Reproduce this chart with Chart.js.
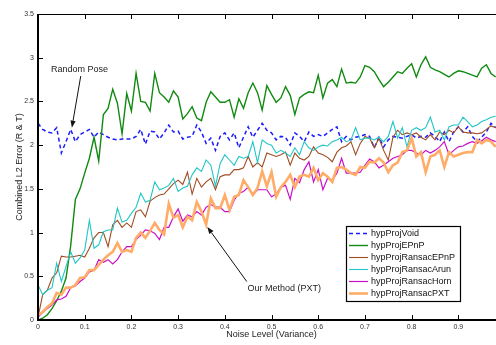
<!DOCTYPE html>
<html><head><meta charset="utf-8">
<script src="https://cdn.jsdelivr.net/npm/chart.js@4"></script>
<style>html,body{margin:0;padding:0;overflow:hidden;background:#fff;width:496px;height:345px}#wrap{width:510px;height:345px;position:relative}</style>
</head><body><div id="wrap"><canvas id="c" width="510" height="345"></canvas></div>
<script>
const noiseLevels = [0,0.01,0.02,0.03,0.04,0.05,0.06,0.07,0.08,0.09,
 0.1,0.11,0.12,0.13,0.14,0.15,0.16,0.17,0.18,0.19,
 0.2,0.21,0.22,0.23,0.24,0.25,0.26,0.27,0.28,0.29,
 0.3,0.31,0.32,0.33,0.34,0.35,0.36,0.37,0.38,0.39,
 0.4,0.41,0.42,0.43,0.44,0.45,0.46,0.47,0.48,0.49,
 0.5,0.51,0.52,0.53,0.54,0.55,0.56,0.57,0.58,0.59,
 0.6,0.61,0.62,0.63,0.64,0.65,0.66,0.67,0.68,0.69,
 0.7,0.71,0.72,0.73,0.74,0.75,0.76,0.77,0.78,0.79,
 0.8,0.81,0.82,0.83,0.84,0.85,0.86,0.87,0.88,0.89,
 0.9,0.91,0.92,0.93,0.94,0.95,0.96,0.97,0.98];

const hypProjVoid = [2.25,2.18,2.15,2.14,2.2,1.91,2.04,2.18,2.04,2.12,
 2.15,2.18,2.09,2.15,2.12,2.09,2.07,2.06,2.07,2.07,
 2.07,2.1,2.18,2.01,2.16,2.15,2.07,2.14,2.23,2.15,
 2.16,2.07,2.09,2.1,2.23,2.15,2.02,2.08,1.94,2.1,
 2.14,2.06,2.14,1.97,2.09,2.21,2.09,2.17,2.25,2.17,
 2.14,2.06,2.1,2.09,2.0,2.14,2.1,2.04,2.15,2.1,
 2.12,2.1,2.14,2.18,2.21,2.04,2.1,2.06,2.09,2.1,
 2.12,2.1,1.97,2.09,1.98,2.06,2.1,2.09,2.08,2.1,
 2.12,2.08,2.1,2.09,2.14,2.1,2.04,2.15,2.04,2.15,
 2.21,2.15,2.21,2.1,2.04,2.09,2.15,2.25,2.2];

const hypProjEPnP = [0,0.02,0.06,0.13,0.22,0.33,0.48,0.85,1.38,1.5,
 1.68,1.85,2.09,1.82,2.35,2.42,2.64,2.48,2.13,2.59,
 2.39,2.82,2.5,2.49,2.39,2.82,2.6,2.55,2.49,2.62,
 2.55,2.3,2.36,2.44,2.31,2.28,2.49,2.61,2.55,2.49,
 2.49,2.52,2.32,2.53,2.42,2.6,2.71,2.6,2.4,2.68,
 2.58,2.49,2.54,2.67,2.57,2.35,2.54,2.58,2.61,2.6,
 2.8,2.54,2.71,2.75,2.67,2.87,2.71,2.72,2.71,2.78,
 2.91,2.89,2.84,2.75,2.67,2.72,2.78,2.84,2.82,2.88,
 2.93,2.78,2.92,3.01,2.89,2.86,2.84,2.81,2.78,2.82,
 2.85,2.84,2.82,2.8,2.78,2.88,2.92,2.82,2.78];

const hypProjRansacEPnP = [0.03,0.29,0.34,0.48,0.54,0.73,0.72,0.72,0.73,0.74,
 0.72,0.82,0.94,1.0,1.0,0.84,1.09,1.14,1.06,1.11,
 1.06,1.24,1.26,1.18,1.36,1.4,1.43,1.44,1.5,1.56,
 1.6,1.55,1.69,1.44,1.62,1.52,1.58,1.62,1.49,1.64,
 1.66,1.66,1.72,1.72,1.74,1.87,1.75,1.8,1.75,1.91,
 1.89,1.87,1.89,1.92,1.77,1.91,1.85,1.83,1.87,1.98,
 1.91,1.89,1.86,1.81,1.92,1.97,1.99,2.04,1.89,2.02,
 2.1,2.08,1.97,2.08,1.94,1.83,2.09,2.17,2.12,2.14,
 2.12,2.14,2.09,2.06,2.12,2.06,2.15,2.12,2.17,2.14,
 2.21,2.15,2.14,2.14,2.13,2.14,2.18,2.22,2.2];

const hypProjRansacArun = [0.4,0.29,0.34,0.37,0.65,0.44,0.61,0.78,0.65,0.71,
 0.8,1.14,0.82,0.86,1.01,1.03,1.03,1.28,1.12,1.14,
 1.22,1.29,1.45,1.35,1.37,1.58,1.49,1.51,1.54,1.62,
 1.47,1.51,1.53,1.66,1.74,1.7,1.83,1.77,1.53,1.79,
 1.89,1.83,1.77,1.87,1.85,1.87,2.04,1.8,2.06,2.02,
 2.0,1.91,1.94,1.91,1.87,1.97,1.89,2.04,1.97,1.94,
 1.98,2.0,1.99,2.04,2.06,2.09,2.04,2.06,2.2,2.06,
 2.08,2.08,2.06,2.09,2.04,2.1,2.27,2.08,2.2,1.98,
 2.17,2.2,2.17,2.2,2.32,2.15,2.17,2.06,2.21,2.23,
 2.23,2.32,2.27,2.21,2.23,2.27,2.29,2.32,2.33];

const hypProjRansacHorn = [0.03,0.09,0.13,0.17,0.23,0.24,0.27,0.37,0.39,0.44,
 0.48,0.55,0.57,0.69,0.66,0.69,0.64,0.69,0.78,0.84,
 0.84,0.92,0.97,1.03,1.02,0.99,0.92,1.06,1.06,1.18,
 1.27,1.13,1.2,1.18,1.24,1.2,1.29,1.32,1.29,1.29,
 1.24,1.24,1.37,1.45,1.47,1.52,1.43,1.49,1.49,1.49,
 1.41,1.44,1.52,1.54,1.38,1.62,1.57,1.72,1.81,1.58,
 1.72,1.49,1.62,1.6,1.68,1.85,1.68,1.68,1.68,1.69,
 1.77,1.84,1.81,1.74,1.77,1.81,1.85,1.87,1.89,1.94,
 1.94,1.91,1.89,1.94,1.91,1.94,1.98,2.04,1.89,1.94,
 1.98,1.99,2.02,2.04,2.02,2.05,2.09,2.06,2.04];

const hypProjRansacPXT = [0.06,0.09,0.15,0.19,0.31,0.29,0.37,0.37,0.4,0.48,
 0.49,0.57,0.57,0.63,0.69,0.74,0.78,0.88,0.78,0.8,
 0.78,0.94,1.0,0.94,1.02,1.11,1.03,0.98,1.33,1.17,
 1.2,1.06,1.18,1.14,1.35,1.24,1.09,1.39,1.28,1.28,
 1.43,1.26,1.41,1.43,1.6,1.52,1.43,1.51,1.7,1.53,
 1.69,1.41,1.52,1.58,1.66,1.52,1.64,1.66,1.64,1.74,
 1.6,1.68,1.64,1.58,1.74,1.75,1.72,1.68,1.66,1.75,
 1.74,1.81,1.8,1.85,1.8,1.69,1.77,1.8,1.92,1.94,
 2.08,1.87,1.92,1.69,1.87,1.89,1.94,1.75,1.92,1.87,
 1.89,1.91,1.92,1.92,2.06,2.02,2.06,2.04,1.98];

const seriesNames = ['hypProjVoid','hypProjEPnP','hypProjRansacEPnP','hypProjRansacArun','hypProjRansacHorn','hypProjRansacPXT'];
const seriesValues = [hypProjVoid,hypProjEPnP,hypProjRansacEPnP,hypProjRansacArun,hypProjRansacHorn,hypProjRansacPXT];
const xAxisTitle = 'Noise Level (Variance)';
const yAxisTitle = 'Combined L2 Error (R & T)';
const annotations = [
  {text:'Random Pose', tx:0.089, ty:2.87, ax:0.0915, ay:2.79, px:0.0725, py:2.2},
  {text:'Our Method (PXT)', tx:0.527, ty:0.355, ax:0.447, ay:0.44, px:0.3625, py:1.065}
];

const styles = [
  {color:'#1c1cff', width:1.5, dash:[4,3]},
  {color:'#118a11', width:1.4, dash:[]},
  {color:'#a04c22', width:1.1, dash:[]},
  {color:'#22c6c6', width:1.1, dash:[]},
  {color:'#c810c8', width:1.2, dash:[]},
  {color:'#ffac68', width:2.6, dash:[]}
];
const FONT = '"Liberation Sans", Arial, Helvetica, sans-serif';

const datasets = seriesNames.map((name, k) => ({
  label: name,
  data: noiseLevels.map((x, i) => ({x: x, y: seriesValues[k][i]})),
  borderColor: styles[k].color,
  backgroundColor: styles[k].color,
  borderWidth: styles[k].width,
  borderDash: styles[k].dash,
  pointRadius: 0,
  tension: 0,
  fill: false,
  order: seriesNames.length - k
}));

function arrow(ctx, x1, y1, x2, y2) {
  ctx.save();
  ctx.strokeStyle = '#111'; ctx.fillStyle = '#111'; ctx.lineWidth = 1;
  const ang = Math.atan2(y2 - y1, x2 - x1);
  const L = 7, W = 2.6;
  const bx = x2 - L * Math.cos(ang), by = y2 - L * Math.sin(ang);
  ctx.beginPath(); ctx.moveTo(x1, y1); ctx.lineTo(bx, by); ctx.stroke();
  ctx.beginPath();
  ctx.moveTo(x2, y2);
  ctx.lineTo(bx + W * Math.sin(ang), by - W * Math.cos(ang));
  ctx.lineTo(bx - W * Math.sin(ang), by + W * Math.cos(ang));
  ctx.closePath(); ctx.fill();
  ctx.restore();
}

const decor = {
  id: 'decor',
  afterDraw(chart) {
    const ctx = chart.ctx, a = chart.chartArea, xs = chart.scales.x, ys = chart.scales.y;
    ctx.save();
    ctx.strokeStyle = '#000'; ctx.lineWidth = 1;
    xs.ticks.forEach(t => {
      const px = Math.round(xs.getPixelForValue(t.value)) + 0.5;
      ctx.beginPath(); ctx.moveTo(px, a.bottom); ctx.lineTo(px, a.bottom - 5); ctx.stroke();
      ctx.beginPath(); ctx.moveTo(px, a.top); ctx.lineTo(px, a.top + 5); ctx.stroke();
    });
    ys.ticks.forEach(t => {
      const py = Math.round(ys.getPixelForValue(t.value)) + 0.5;
      ctx.beginPath(); ctx.moveTo(a.left, py); ctx.lineTo(a.left + 5, py); ctx.stroke();
      ctx.beginPath(); ctx.moveTo(a.right, py); ctx.lineTo(a.right - 5, py); ctx.stroke();
    });
    ctx.lineWidth = 1.2;
    ctx.beginPath(); ctx.moveTo(a.left, a.top + 0.5); ctx.lineTo(a.right, a.top + 0.5); ctx.stroke();
    ctx.beginPath(); ctx.moveTo(a.right - 0.5, a.top); ctx.lineTo(a.right - 0.5, a.bottom); ctx.stroke();
    ctx.lineWidth = 2;
    ctx.beginPath(); ctx.moveTo(a.left, a.top); ctx.lineTo(a.left, a.bottom + 1); ctx.stroke();
    ctx.beginPath(); ctx.moveTo(a.left - 1, a.bottom); ctx.lineTo(a.right, a.bottom); ctx.stroke();

    ctx.font = '9px ' + FONT; ctx.fillStyle = '#222';
    ctx.textAlign = 'center'; ctx.textBaseline = 'middle';
    annotations.forEach(an => {
      ctx.fillText(an.text, xs.getPixelForValue(an.tx), ys.getPixelForValue(an.ty));
      arrow(ctx, xs.getPixelForValue(an.ax), ys.getPixelForValue(an.ay),
                 xs.getPixelForValue(an.px), ys.getPixelForValue(an.py));
    });

    const lx = 346, ly = 226, lw = 114, lh = 75;
    ctx.fillStyle = '#fff'; ctx.fillRect(lx, ly, lw, lh);
    ctx.strokeStyle = '#000'; ctx.lineWidth = 1.2;
    ctx.strokeRect(lx + 0.5, ly + 0.5, lw, lh);
    ctx.textAlign = 'left';
    seriesNames.forEach((name, k) => {
      const yy = ly + 7.5 + k * 12;
      ctx.save();
      ctx.strokeStyle = styles[k].color; ctx.lineWidth = styles[k].width;
      ctx.setLineDash(styles[k].dash);
      ctx.beginPath(); ctx.moveTo(lx + 3, yy); ctx.lineTo(lx + 22, yy); ctx.stroke();
      ctx.restore();
      ctx.fillStyle = '#111';
      ctx.fillText(name, lx + 25, yy + 0.5);
    });
    ctx.restore();
  }
};

new Chart(document.getElementById('c'), {
  type: 'line',
  data: {datasets},
  options: {
    responsive: false, animation: false, devicePixelRatio: 1,
    layout: {padding: {left: 0, top: 14, right: 3, bottom: 0}},
    plugins: {legend: {display: false}, tooltip: {enabled: false}},
    scales: {
      x: {
        type: 'linear', min: 0, max: 1,
        ticks: {stepSize: 0.1, padding: 3, maxRotation: 0, autoSkip: false, color: '#333', font: {size: 7, family: FONT},
                callback: v => String(Math.round(v * 10) / 10)},
        grid: {display: false, drawTicks: false, tickLength: 0}, border: {display: false},
        title: {display: true, text: xAxisTitle, color: '#222', font: {size: 9, family: FONT}, padding: {top: 0, bottom: 5}},
        afterFit: s => { s.height = 25; }
      },
      y: {
        type: 'linear', min: 0, max: 3.5,
        ticks: {stepSize: 0.5, padding: 4, color: '#333', font: {size: 7, family: FONT},
                callback: v => String(Math.round(v * 10) / 10)},
        grid: {display: false, drawTicks: false, tickLength: 0}, border: {display: false},
        title: {display: true, text: yAxisTitle, color: '#222', font: {size: 9, family: FONT}, padding: {top: 14.5, bottom: 0}},
        afterFit: s => { s.width = 38; }
      }
    }
  },
  plugins: [decor]
});
</script></body></html>
